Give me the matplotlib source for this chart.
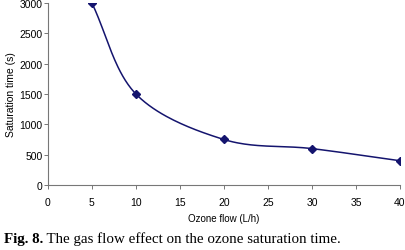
import numpy as np
import matplotlib
matplotlib.use('Agg')
import matplotlib.pyplot as plt
from matplotlib.transforms import offset_copy

# ozone flow vs saturation time
flow = [5, 10, 20, 30, 40]
sat_time = [3000, 1500, 750, 600, 400]
xticks = [0, 5, 10, 15, 20, 25, 30, 35, 40]
yticks = [0, 500, 1000, 1500, 2000, 2500, 3000]


def catmull_rom(x, y, n=40):
    # excel-like smoothed line through the points
    x = np.asarray(x, float)
    y = np.asarray(y, float)
    px = np.concatenate([[2 * x[0] - x[1]], x, [2 * x[-1] - x[-2]]])
    py = np.concatenate([[2 * y[0] - y[1]], y, [2 * y[-1] - y[-2]]])
    xs, ys = [], []
    t = np.linspace(0, 1, n)
    for i in range(1, len(px) - 2):
        for p, out in ((px, xs), (py, ys)):
            p0, p1, p2, p3 = p[i - 1], p[i], p[i + 1], p[i + 2]
            out.append(0.5 * (2 * p1 + (-p0 + p2) * t
                              + (2 * p0 - 5 * p1 + 4 * p2 - p3) * t ** 2
                              + (-p0 + 3 * p1 - 3 * p2 + p3) * t ** 3))
    return np.concatenate(xs), np.concatenate(ys)


fig = plt.figure(figsize=(4.06, 2.51), dpi=100)
ax = fig.add_axes([0.118, 0.259, 0.867, 0.725])

sx, sy = catmull_rom(flow, sat_time)
ax.plot(sx, sy, color='#14146e', lw=1.1)
ax.plot(flow, sat_time, 'D', color='#14146e', ms=4)

ax.set_xlim(0, 40)
ax.set_ylim(0, 3000)
ax.set_xticks(xticks)
ax.set_yticks(yticks)
ax.spines['top'].set_visible(False)
ax.spines['right'].set_visible(False)
for s in ('left', 'bottom'):
    ax.spines[s].set_color('#777777')
    ax.spines[s].set_linewidth(0.8)
ax.tick_params(direction='out', length=3, width=0.7, color='#777777',
               labelsize=7.5, pad=6)
for lab in ax.get_xticklabels() + ax.get_yticklabels():
    lab.set_family('Liberation Sans')
ax.tick_params(axis='y', pad=1)

ax.set_ylabel('Saturation time (s)', fontsize=7.5, family='Liberation Sans', labelpad=2)
ax.set_xlabel('Ozone flow (L/h)', fontsize=7, family='Liberation Sans', labelpad=4)

# caption: bold "Fig. 8." then the rest
t1 = fig.text(0.01, 0.03, 'Fig. 8.', fontsize=10.8, family='Liberation Serif',
              fontweight='bold')
fig.canvas.draw()
w = t1.get_window_extent().width
fig.text(0.01, 0.03, ' The gas flow effect on the ozone saturation time.',
         fontsize=10.8, family='Liberation Serif',
         transform=offset_copy(fig.transFigure, fig=fig, x=w, y=0, units='dots'))

fig.savefig('out.png', dpi=100)
